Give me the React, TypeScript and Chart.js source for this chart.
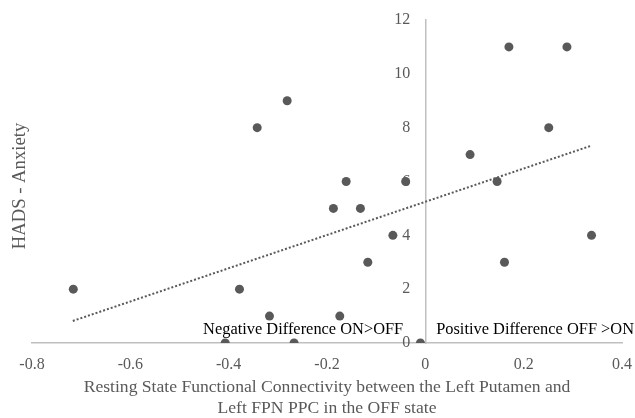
import React, { useEffect, useRef } from "react";
import { Chart, registerables } from "chart.js";
Chart.register(...registerables);

const xValues = [-0.716, -0.407, -0.378, -0.342, -0.317, -0.281, -0.267, -0.187, -0.174, -0.161, -0.132, -0.117, -0.066, -0.04, -0.01, 0.091, 0.146, 0.161, 0.17, 0.251, 0.288, 0.338];
const yValues = [2, 0, 2, 8, 1, 9, 0, 5, 1, 6, 5, 3, 4, 6, 0, 7, 6, 3, 11, 8, 11, 4];
const trendX = [-0.717, 0.339];
const trendY = [0.82, 7.34];
const xTickValues = [-0.8, -0.6, -0.4, -0.2, 0, 0.2, 0.4];
const xTickLabels = ["-0.8", "-0.6", "-0.4", "-0.2", "0", "0.2", "0.4"];
const yTickValues = [0, 2, 4, 6, 8, 10, 12];
const yTickLabels = ["0", "2", "4", "6", "8", "10", "12"];
const xTitle = ["Resting State Functional Connectivity between the Left Putamen and", "Left FPN PPC in the OFF state"];
const yTitle = "HADS - Anxiety";
const noteTexts = ["Negative Difference ON>OFF", "Positive Difference OFF >ON"];
const noteX = [-0.045, 0.022];
const noteY = [0.33, 0.33];

const FONT = "'Liberation Serif', 'Times New Roman', serif";
const GREY = "#595959";

const zeroPad = (s: any) => {
  s.paddingLeft = 0;
  s.paddingRight = 0;
  s.paddingTop = 0;
  s.paddingBottom = 0;
};

export default function App() {
  const ref = useRef<HTMLCanvasElement | null>(null);
  useEffect(() => {
    const canvas = ref.current;
    if (!canvas) return;
    const annot = {
      id: "annot",
      beforeDatasetsDraw(chart: any) {
        const ctx = chart.ctx;
        const xs = chart.scales.x;
        const ys = chart.scales.y;
        ctx.save();
        ctx.fillStyle = GREY;
        ctx.font = `16px ${FONT}`;
        ctx.textAlign = "right";
        ctx.textBaseline = "middle";
        const ax = xs.getPixelForValue(0);
        yTickValues.forEach((v, i) => {
          ctx.fillText(yTickLabels[i], ax - 15, ys.getPixelForValue(v));
        });
        ctx.restore();
      },
      afterDatasetsDraw(chart: any) {
        const ctx = chart.ctx;
        const xs = chart.scales.x;
        const ys = chart.scales.y;
        const area = chart.chartArea;
        ctx.save();
        ctx.fillStyle = "#000000";
        ctx.font = `16.4px ${FONT}`;
        ctx.textBaseline = "alphabetic";
        noteTexts.forEach((t, i) => {
          ctx.textAlign = i === 0 ? "right" : "left";
          ctx.fillText(t, xs.getPixelForValue(noteX[i]), ys.getPixelForValue(noteY[i]));
        });
        ctx.fillStyle = GREY;
        ctx.font = `17.6px ${FONT}`;
        ctx.textAlign = "center";
        const cx = (area.left + area.right) / 2;
        ctx.fillText(xTitle[0], cx, area.bottom + 49);
        ctx.fillText(xTitle[1], cx, area.bottom + 70);
        ctx.font = `18.7px ${FONT}`;
        ctx.translate(20.5, 186);
        ctx.rotate(-Math.PI / 2);
        ctx.textBaseline = "middle";
        ctx.fillText(yTitle, 0, 0);
        ctx.restore();
      },
    };
    const chart = new Chart(canvas, {
      type: "scatter",
      data: {
        datasets: [
          {
            label: "points",
            data: xValues.map((x, i) => ({ x, y: yValues[i] })),
            backgroundColor: GREY,
            borderColor: GREY,
            pointRadius: 4.5,
            pointBorderWidth: 0,
            showLine: false,
            order: 1,
          },
          {
            label: "trend",
            data: trendX.map((x, i) => ({ x, y: trendY[i] })),
            showLine: true,
            borderColor: GREY,
            borderWidth: 2,
            borderDash: [2, 2],
            pointRadius: 0,
            fill: false,
            order: 2,
          },
        ],
      },
      options: {
        animation: false,
        responsive: false,
        layout: { padding: { left: 32, right: 13, top: 20, bottom: 75 } },
        plugins: { legend: { display: false }, tooltip: { enabled: false }, title: { display: false } },
        scales: {
          x: {
            type: "linear",
            position: { y: 0 } as any,
            min: -0.8,
            max: 0.4,
            afterBuildTicks: (s: any) => {
              s.ticks = xTickValues.map((v) => ({ value: v }));
            },
            afterFit: zeroPad,
            ticks: {
              color: GREY,
              font: { family: FONT, size: 16 },
              padding: 12,
              callback: (v: any) => {
                const i = xTickValues.findIndex((t) => Math.abs(t - Number(v)) < 1e-9);
                return i >= 0 ? xTickLabels[i] : "";
              },
            },
            grid: { display: false, drawTicks: false },
            border: { display: true, color: "#BFBFBF", width: 1.5 },
          },
          y: {
            type: "linear",
            position: { x: 0 } as any,
            min: 0,
            max: 12,
            afterBuildTicks: (s: any) => {
              s.ticks = yTickValues.map((v) => ({ value: v }));
            },
            afterFit: zeroPad,
            ticks: { display: false },
            grid: { display: false, drawTicks: false },
            border: { display: true, color: "#BFBFBF", width: 1.5 },
          },
        },
      },
      plugins: [annot],
    });
    return () => chart.destroy();
  }, []);
  return (
    <div style={{ position: "absolute", left: 0, top: 0, width: 635, height: 418, background: "#fff" }}>
      <canvas ref={ref} width={635} height={418} style={{ display: "block" }} />
    </div>
  );
}
